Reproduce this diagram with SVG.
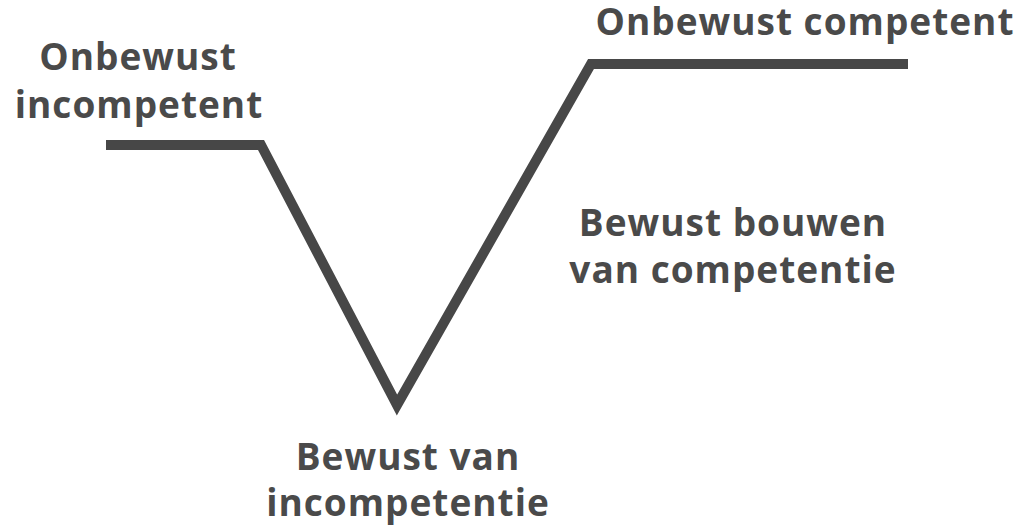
<svg xmlns="http://www.w3.org/2000/svg" width="1022" height="526" viewBox="0 0 1022 526">
<style>
.t{font-family:"Open Sans","DejaVu Sans",sans-serif;font-weight:700;font-size:37px;letter-spacing:1px;fill:#4a4a4a;text-anchor:middle}
.c{fill:none;stroke:#474747;stroke-width:10;stroke-linejoin:miter}
</style>
<rect width="1022" height="526" fill="#ffffff"/>
<g id="connectors">
<polyline class="c" points="106,145 261,145 397,405 591,64 908,64"/>
</g>
<g id="node-onbewust-incompetent">
<text class="t" x="138" y="70">Onbewust</text>
<text class="t" x="139" y="118">incompetent</text>
</g>
<g id="node-onbewust-competent">
<text class="t" x="805" y="35">Onbewust competent</text>
</g>
<g id="node-bewust-bouwen">
<text class="t" x="733" y="236">Bewust bouwen</text>
<text class="t" x="733" y="283">van competentie</text>
</g>
<g id="node-bewust-van">
<text class="t" x="408" y="470">Bewust van</text>
<text class="t" x="408" y="516">incompetentie</text>
</g>
</svg>
